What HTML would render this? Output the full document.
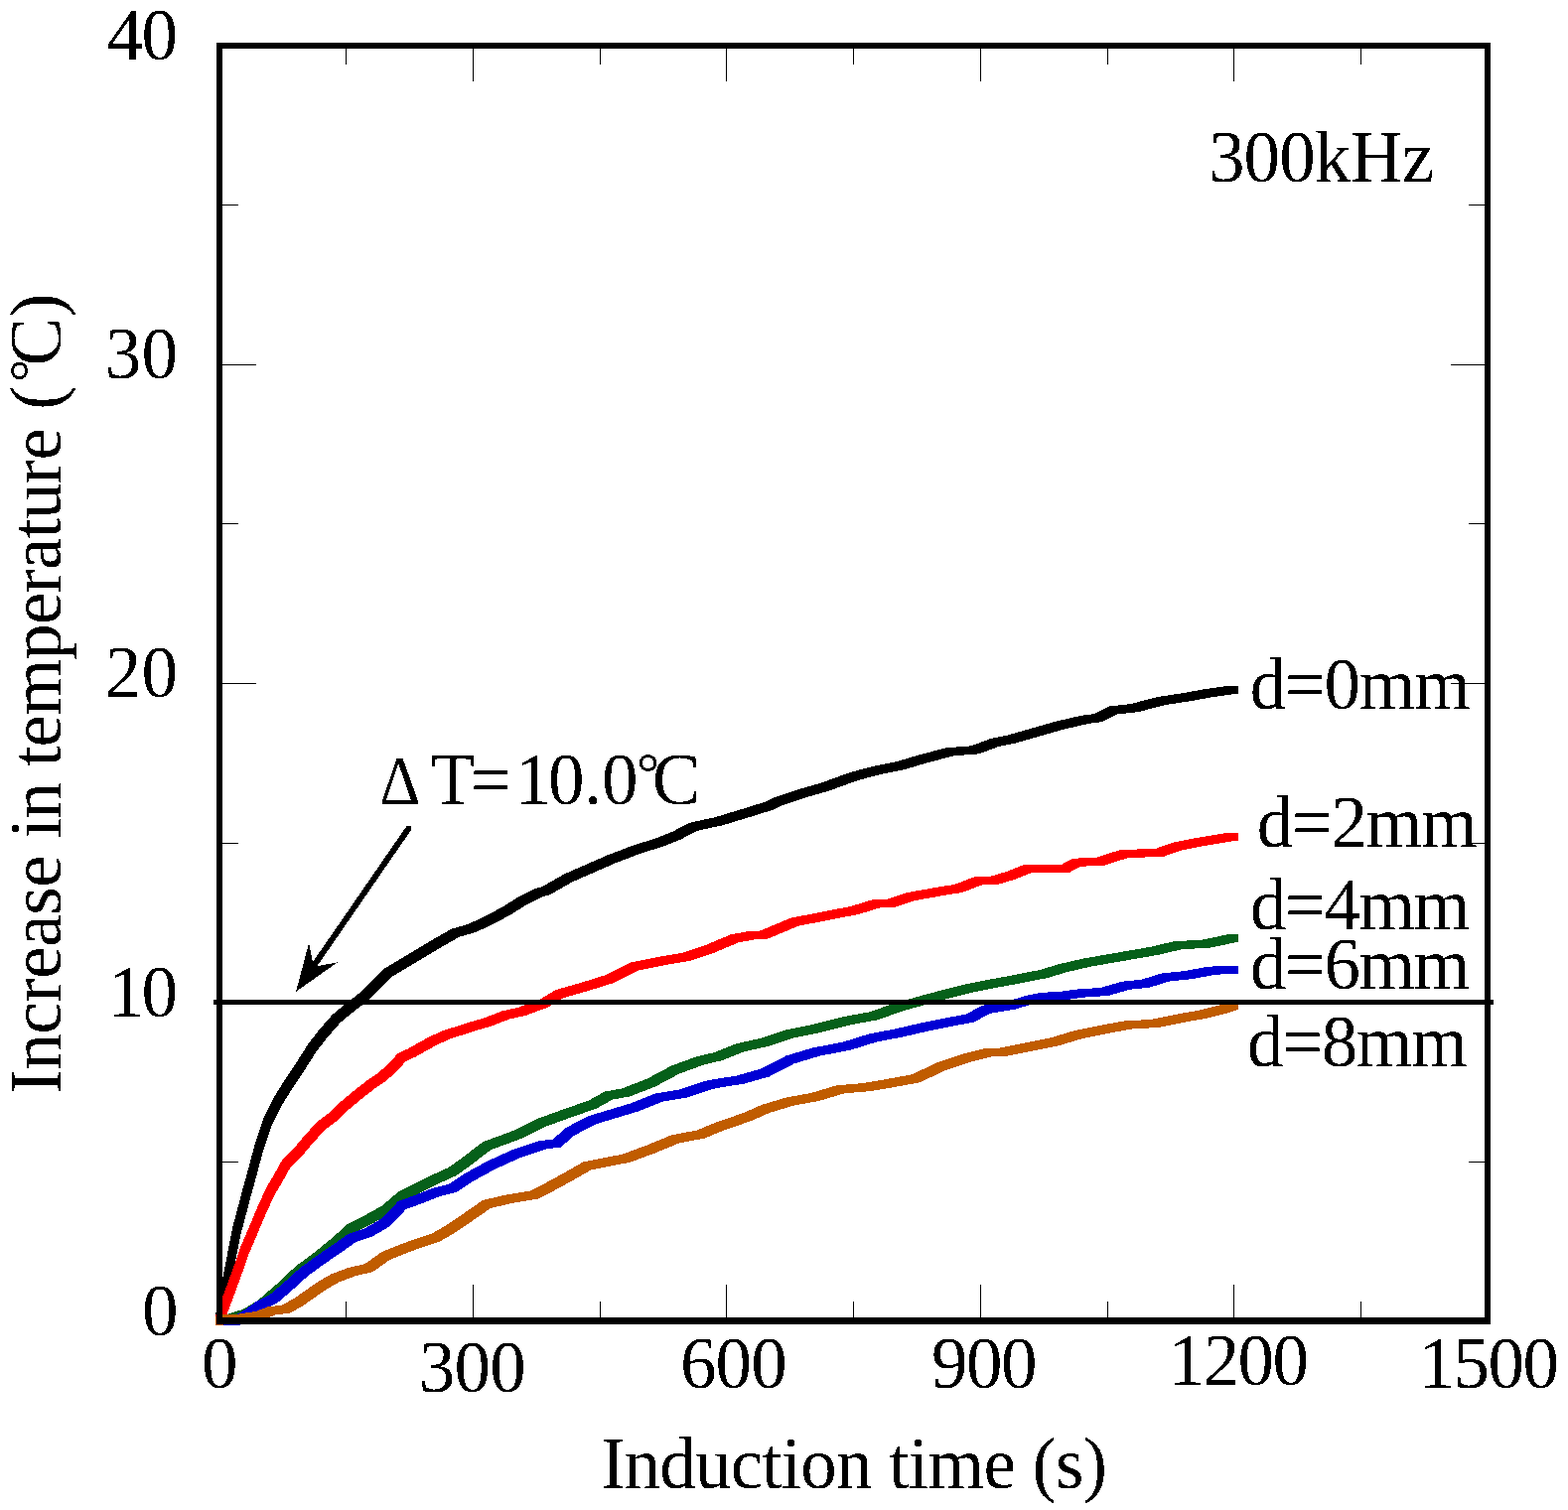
<!DOCTYPE html><html><head><meta charset="utf-8"><title>Increase in temperature vs induction time</title>
<style>html,body{margin:0;padding:0;background:#fff;overflow:hidden}svg{display:block}text{font-family:"Liberation Serif","Noto Serif CJK SC",serif;fill:#000}</style></head><body>
<svg width="1579" height="1521" viewBox="0 0 1579 1521">
<rect x="0" y="0" width="1579" height="1521" fill="#fff"/>
<path fill="#000000" shape-rendering="crispEdges" d="M216.60 1326.50 226.80 1274.90 234.80 1274.90 234.80 1282.90 224.60 1334.50 216.60 1334.50ZM226.80 1274.90 230.50 1255.10 238.50 1255.10 238.50 1263.10 234.80 1282.90 226.80 1282.90ZM230.50 1255.10 234.40 1235.40 242.40 1235.40 242.40 1243.40 238.50 1263.10 230.50 1263.10ZM234.40 1235.40 239.70 1215.70 247.70 1215.70 247.70 1223.70 242.40 1243.40 234.40 1243.40ZM239.70 1215.70 244.90 1196.00 252.90 1196.00 252.90 1204.00 247.70 1223.70 239.70 1223.70ZM244.90 1196.00 248.30 1183.90 256.30 1183.90 256.30 1191.90 252.90 1204.00 244.90 1204.00ZM248.30 1183.90 256.20 1154.30 264.20 1154.30 264.20 1162.30 256.30 1191.90 248.30 1191.90ZM256.20 1154.30 266.10 1124.70 274.10 1124.70 274.10 1132.70 264.20 1162.30 256.20 1162.30ZM266.10 1124.70 276.10 1104.80 284.10 1104.80 284.10 1112.80 274.10 1132.70 266.10 1132.70ZM276.10 1104.80 287.30 1087.00 295.30 1087.00 295.30 1095.00 284.10 1112.80 276.10 1112.80ZM287.30 1087.00 299.10 1069.30 307.10 1069.30 307.10 1077.30 295.30 1095.00 287.30 1095.00ZM299.10 1069.30 310.40 1051.50 318.40 1051.50 318.40 1059.50 307.10 1077.30 299.10 1077.30ZM310.40 1051.50 321.90 1036.70 329.90 1036.70 329.90 1044.70 318.40 1059.50 310.40 1059.50ZM321.90 1036.70 334.90 1021.90 342.90 1021.90 342.90 1029.90 329.90 1044.70 321.90 1044.70ZM334.90 1021.90 348.00 1011.20 356.00 1011.20 356.00 1019.20 342.90 1029.90 334.90 1029.90ZM348.00 1011.20 363.70 999.00 371.70 999.00 371.70 1007.00 356.00 1019.20 348.00 1019.20ZM363.70 999.00 387.00 975.70 395.00 975.70 395.00 983.70 371.70 1007.00 363.70 1007.00ZM387.00 975.70 409.00 962.50 417.00 962.50 417.00 970.50 395.00 983.70 387.00 983.70ZM409.00 962.50 432.00 948.60 440.00 948.60 440.00 956.60 417.00 970.50 409.00 970.50ZM432.00 948.60 454.30 935.80 462.30 935.80 462.30 943.80 440.00 956.60 432.00 956.60ZM454.30 935.80 471.10 931.00 479.10 931.00 479.10 939.00 462.30 943.80 454.30 943.80ZM471.10 931.00 488.00 923.10 496.00 923.10 496.00 931.10 479.10 939.00 471.10 939.00ZM488.00 923.10 504.80 914.20 512.80 914.20 512.80 922.20 496.00 931.10 488.00 931.10ZM504.80 914.20 521.60 903.80 529.60 903.80 529.60 911.80 512.80 922.20 504.80 922.20ZM521.60 903.80 538.50 895.40 546.50 895.40 546.50 903.40 529.60 911.80 521.60 911.80ZM538.50 895.40 546.20 893.10 554.20 893.10 554.20 901.10 546.50 903.40 538.50 903.40ZM546.20 893.10 568.10 880.50 576.10 880.50 576.10 888.50 554.20 901.10 546.20 901.10ZM568.10 880.50 590.00 870.90 598.00 870.90 598.00 878.90 576.10 888.50 568.10 888.50ZM590.00 870.90 610.20 862.00 618.20 862.00 618.20 870.00 598.00 878.90 590.00 878.90ZM610.20 862.00 635.40 852.40 643.40 852.40 643.40 860.40 618.20 870.00 610.20 870.00ZM635.40 852.40 660.60 844.30 668.60 844.30 668.60 852.30 643.40 860.40 635.40 860.40ZM660.60 844.30 677.50 837.60 685.50 837.60 685.50 845.60 668.60 852.30 660.60 852.30ZM677.50 837.60 694.30 828.80 702.30 828.80 702.30 836.80 685.50 845.60 677.50 845.60ZM694.30 828.80 719.60 823.30 727.60 823.30 727.60 831.30 702.30 836.80 694.30 836.80ZM719.60 823.30 744.80 815.70 752.80 815.70 752.80 823.70 727.60 831.30 719.60 831.30ZM744.80 815.70 770.10 807.80 778.10 807.80 778.10 815.80 752.80 823.70 744.80 823.70ZM770.10 807.80 779.00 803.50 787.00 803.50 787.00 811.50 778.10 815.80 770.10 815.80ZM779.00 803.50 801.20 796.00 809.20 796.00 809.20 804.00 787.00 811.50 779.00 811.50ZM801.20 796.00 826.50 788.70 834.50 788.70 834.50 796.70 809.20 804.00 801.20 804.00ZM826.50 788.70 856.80 777.80 864.80 777.80 864.80 785.80 834.50 796.70 826.50 796.70ZM856.80 777.80 877.00 772.40 885.00 772.40 885.00 780.40 864.80 785.80 856.80 785.80ZM877.00 772.40 902.20 767.30 910.20 767.30 910.20 775.30 885.00 780.40 877.00 780.40ZM902.20 767.30 927.50 759.80 935.50 759.80 935.50 767.80 910.20 775.30 902.20 775.30ZM927.50 759.80 952.70 753.40 960.70 753.40 960.70 761.40 935.50 767.80 927.50 767.80ZM952.70 753.40 978.00 751.30 986.00 751.30 986.00 759.30 960.70 761.40 952.70 761.40ZM978.00 751.30 998.20 743.80 1006.20 743.80 1006.20 751.80 986.00 759.30 978.00 759.30ZM998.20 743.80 1012.80 741.00 1020.80 741.00 1020.80 749.00 1006.20 751.80 998.20 751.80ZM1012.80 741.00 1038.10 733.80 1046.10 733.80 1046.10 741.80 1020.80 749.00 1012.80 749.00ZM1038.10 733.80 1063.30 726.70 1071.30 726.70 1071.30 734.70 1046.10 741.80 1038.10 741.80ZM1063.30 726.70 1088.60 720.80 1096.60 720.80 1096.60 728.80 1071.30 734.70 1063.30 734.70ZM1088.60 720.80 1102.00 719.10 1110.00 719.10 1110.00 727.10 1096.60 728.80 1088.60 728.80ZM1102.00 719.10 1117.20 711.50 1125.20 711.50 1125.20 719.50 1110.00 727.10 1102.00 727.10ZM1117.20 711.50 1139.10 709.00 1147.10 709.00 1147.10 717.00 1125.20 719.50 1117.20 719.50ZM1139.10 709.00 1164.30 702.30 1172.30 702.30 1172.30 710.30 1147.10 717.00 1139.10 717.00ZM1164.30 702.30 1189.60 698.40 1197.60 698.40 1197.60 706.40 1172.30 710.30 1164.30 710.30ZM1189.60 698.40 1214.80 693.90 1222.80 693.90 1222.80 701.90 1197.60 706.40 1189.60 706.40ZM1214.80 693.90 1238.70 690.60 1246.70 690.60 1246.70 698.60 1222.80 701.90 1214.80 701.90Z"/>
<path fill="#ff0000" shape-rendering="crispEdges" d="M216.60 1326.50 220.00 1317.50 228.00 1317.50 228.00 1325.50 224.60 1334.50 216.60 1334.50ZM220.00 1317.50 228.60 1294.60 236.60 1294.60 236.60 1302.60 228.00 1325.50 220.00 1325.50ZM228.60 1294.60 235.70 1274.90 243.70 1274.90 243.70 1282.90 236.60 1302.60 228.60 1302.60ZM235.70 1274.90 242.60 1255.10 250.60 1255.10 250.60 1263.10 243.70 1282.90 235.70 1282.90ZM242.60 1255.10 251.00 1235.40 259.00 1235.40 259.00 1243.40 250.60 1263.10 242.60 1263.10ZM251.00 1235.40 259.40 1215.70 267.40 1215.70 267.40 1223.70 259.00 1243.40 251.00 1243.40ZM259.40 1215.70 268.40 1196.00 276.40 1196.00 276.40 1204.00 267.40 1223.70 259.40 1223.70ZM268.40 1196.00 275.60 1183.90 283.60 1183.90 283.60 1191.90 276.40 1204.00 268.40 1204.00ZM275.60 1183.90 283.80 1169.10 291.80 1169.10 291.80 1177.10 283.60 1191.90 275.60 1191.90ZM283.80 1169.10 297.60 1154.60 305.60 1154.60 305.60 1162.60 291.80 1177.10 283.80 1177.10ZM297.60 1154.60 305.70 1145.10 313.70 1145.10 313.70 1153.10 305.60 1162.60 297.60 1162.60ZM305.70 1145.10 318.90 1130.30 326.90 1130.30 326.90 1138.30 313.70 1153.10 305.70 1153.10ZM318.90 1130.30 332.00 1120.40 340.00 1120.40 340.00 1128.40 326.90 1138.30 318.90 1138.30ZM332.00 1120.40 345.20 1107.90 353.20 1107.90 353.20 1115.90 340.00 1128.40 332.00 1128.40ZM345.20 1107.90 358.30 1097.10 366.30 1097.10 366.30 1105.10 353.20 1115.90 345.20 1115.90ZM358.30 1097.10 371.50 1086.90 379.50 1086.90 379.50 1094.90 366.30 1105.10 358.30 1105.10ZM371.50 1086.90 381.00 1080.50 389.00 1080.50 389.00 1088.50 379.50 1094.90 371.50 1094.90ZM381.00 1080.50 390.90 1071.90 398.90 1071.90 398.90 1079.90 389.00 1088.50 381.00 1088.50ZM390.90 1071.90 400.70 1061.10 408.70 1061.10 408.70 1069.10 398.90 1079.90 390.90 1079.90ZM400.70 1061.10 410.60 1056.50 418.60 1056.50 418.60 1064.50 408.70 1069.10 400.70 1069.10ZM410.60 1056.50 420.40 1050.90 428.40 1050.90 428.40 1058.90 418.60 1064.50 410.60 1064.50ZM420.40 1050.90 433.60 1043.70 441.60 1043.70 441.60 1051.70 428.40 1058.90 420.40 1058.90ZM433.60 1043.70 446.70 1037.90 454.70 1037.90 454.70 1045.90 441.60 1051.70 433.60 1051.70ZM446.70 1037.90 459.90 1033.80 467.90 1033.80 467.90 1041.80 454.70 1045.90 446.70 1045.90ZM459.90 1033.80 473.00 1029.50 481.00 1029.50 481.00 1037.50 467.90 1041.80 459.90 1041.80ZM473.00 1029.50 488.00 1025.30 496.00 1025.30 496.00 1033.30 481.00 1037.50 473.00 1037.50ZM488.00 1025.30 504.80 1018.60 512.80 1018.60 512.80 1026.60 496.00 1033.30 488.00 1033.30ZM504.80 1018.60 521.60 1014.90 529.60 1014.90 529.60 1022.90 512.80 1026.60 504.80 1026.60ZM521.60 1014.90 526.00 1013.10 534.00 1013.10 534.00 1021.10 529.60 1022.90 521.60 1022.90ZM526.00 1013.10 542.80 1007.20 550.80 1007.20 550.80 1015.20 534.00 1021.10 526.00 1021.10ZM542.80 1007.20 559.70 997.10 567.70 997.10 567.70 1005.10 550.80 1015.20 542.80 1015.20ZM559.70 997.10 584.90 989.90 592.90 989.90 592.90 997.90 567.70 1005.10 559.70 1005.10ZM584.90 989.90 610.20 982.00 618.20 982.00 618.20 990.00 592.90 997.90 584.90 997.90ZM610.20 982.00 635.40 969.40 643.40 969.40 643.40 977.40 618.20 990.00 610.20 990.00ZM635.40 969.40 660.60 964.30 668.60 964.30 668.60 972.30 643.40 977.40 635.40 977.40ZM660.60 964.30 685.90 960.10 693.90 960.10 693.90 968.10 668.60 972.30 660.60 972.30ZM685.90 960.10 711.10 951.70 719.10 951.70 719.10 959.70 693.90 968.10 685.90 968.10ZM711.10 951.70 736.40 941.10 744.40 941.10 744.40 949.10 719.10 959.70 711.10 959.70ZM736.40 941.10 753.20 938.20 761.20 938.20 761.20 946.20 744.40 949.10 736.40 949.10ZM753.20 938.20 765.00 937.70 773.00 937.70 773.00 945.70 761.20 946.20 753.20 946.20ZM765.00 937.70 782.00 930.60 790.00 930.60 790.00 938.60 773.00 945.70 765.00 945.70ZM782.00 930.60 796.20 924.70 804.20 924.70 804.20 932.70 790.00 938.60 782.00 938.60ZM796.20 924.70 826.50 918.80 834.50 918.80 834.50 926.80 804.20 932.70 796.20 932.70ZM826.50 918.80 856.80 912.90 864.80 912.90 864.80 920.90 834.50 926.80 826.50 926.80ZM856.80 912.90 880.40 905.70 888.40 905.70 888.40 913.70 864.80 920.90 856.80 920.90ZM880.40 905.70 901.80 905.70 901.80 913.70 880.40 913.70ZM893.80 905.70 914.00 899.00 922.00 899.00 922.00 907.00 901.80 913.70 893.80 913.70ZM914.00 899.00 944.30 893.60 952.30 893.60 952.30 901.60 922.00 907.00 914.00 907.00ZM944.30 893.60 961.10 891.00 969.10 891.00 969.10 899.00 952.30 901.60 944.30 901.60ZM961.10 891.00 983.00 882.60 991.00 882.60 991.00 890.60 969.10 899.00 961.10 899.00ZM983.00 882.60 1006.20 882.60 1006.20 890.60 983.00 890.60ZM998.20 882.60 1012.80 878.20 1020.80 878.20 1020.80 886.20 1006.20 890.60 998.20 890.60ZM1012.80 878.20 1031.20 870.90 1039.20 870.90 1039.20 878.90 1020.80 886.20 1012.80 886.20ZM1031.20 870.90 1076.90 870.90 1076.90 878.90 1031.20 878.90ZM1068.90 870.90 1080.20 864.70 1088.20 864.70 1088.20 872.70 1076.90 878.90 1068.90 878.90ZM1080.20 864.70 1103.70 863.90 1111.70 863.90 1111.70 871.90 1088.20 872.70 1080.20 872.70ZM1103.70 863.90 1127.30 856.30 1135.30 856.30 1135.30 864.30 1111.70 871.90 1103.70 871.90ZM1127.30 856.30 1164.30 854.60 1172.30 854.60 1172.30 862.60 1135.30 864.30 1127.30 864.30ZM1164.30 854.60 1181.10 848.70 1189.10 848.70 1189.10 856.70 1172.30 862.60 1164.30 862.60ZM1181.10 848.70 1206.40 843.70 1214.40 843.70 1214.40 851.70 1189.10 856.70 1181.10 856.70ZM1206.40 843.70 1231.60 839.50 1239.60 839.50 1239.60 847.50 1214.40 851.70 1206.40 851.70ZM1231.60 839.50 1238.70 838.50 1246.70 838.50 1246.70 846.50 1239.60 847.50 1231.60 847.50Z"/>
<path fill="#06601a" shape-rendering="crispEdges" d="M216.60 1326.50 228.00 1324.00 236.00 1324.00 236.00 1332.00 224.60 1334.50 216.60 1334.50ZM228.00 1324.00 244.40 1319.00 252.40 1319.00 252.40 1327.00 236.00 1332.00 228.00 1332.00ZM244.40 1319.00 260.20 1309.50 268.20 1309.50 268.20 1317.50 252.40 1327.00 244.40 1327.00ZM260.20 1309.50 279.80 1292.40 287.80 1292.40 287.80 1300.40 268.20 1317.50 260.20 1317.50ZM279.80 1292.40 297.60 1275.60 305.60 1275.60 305.60 1283.60 287.80 1300.40 279.80 1300.40ZM297.60 1275.60 314.70 1263.10 322.70 1263.10 322.70 1271.10 305.60 1283.60 297.60 1283.60ZM314.70 1263.10 326.00 1253.90 334.00 1253.90 334.00 1261.90 322.70 1271.10 314.70 1271.10ZM326.00 1253.90 333.80 1247.50 341.80 1247.50 341.80 1255.50 334.00 1261.90 326.00 1261.90ZM333.80 1247.50 350.60 1232.50 358.60 1232.50 358.60 1240.50 341.80 1255.50 333.80 1255.50ZM350.60 1232.50 367.50 1224.10 375.50 1224.10 375.50 1232.10 358.60 1240.50 350.60 1240.50ZM367.50 1224.10 384.30 1214.80 392.30 1214.80 392.30 1222.80 375.50 1232.10 367.50 1232.10ZM384.30 1214.80 401.10 1200.50 409.10 1200.50 409.10 1208.50 392.30 1222.80 384.30 1222.80ZM401.10 1200.50 418.00 1192.10 426.00 1192.10 426.00 1200.10 409.10 1208.50 401.10 1208.50ZM418.00 1192.10 434.80 1183.70 442.80 1183.70 442.80 1191.70 426.00 1200.10 418.00 1200.10ZM434.80 1183.70 451.60 1176.10 459.60 1176.10 459.60 1184.10 442.80 1191.70 434.80 1191.70ZM451.60 1176.10 467.00 1165.00 475.00 1165.00 475.00 1173.00 459.60 1184.10 451.60 1184.10ZM467.00 1165.00 486.20 1150.30 494.20 1150.30 494.20 1158.30 475.00 1173.00 467.00 1173.00ZM486.20 1150.30 516.50 1139.10 524.50 1139.10 524.50 1147.10 494.20 1158.30 486.20 1158.30ZM516.50 1139.10 541.70 1126.80 549.70 1126.80 549.70 1134.80 524.50 1147.10 516.50 1147.10ZM541.70 1126.80 567.00 1117.50 575.00 1117.50 575.00 1125.50 549.70 1134.80 541.70 1134.80ZM567.00 1117.50 592.20 1108.80 600.20 1108.80 600.20 1116.80 575.00 1125.50 567.00 1125.50ZM592.20 1108.80 609.10 1099.50 617.10 1099.50 617.10 1107.50 600.20 1116.80 592.20 1116.80ZM609.10 1099.50 625.90 1096.50 633.90 1096.50 633.90 1104.50 617.10 1107.50 609.10 1107.50ZM625.90 1096.50 651.10 1086.90 659.10 1086.90 659.10 1094.90 633.90 1104.50 625.90 1104.50ZM651.10 1086.90 676.40 1073.40 684.40 1073.40 684.40 1081.40 659.10 1094.90 651.10 1094.90ZM676.40 1073.40 701.60 1064.20 709.60 1064.20 709.60 1072.20 684.40 1081.40 676.40 1081.40ZM701.60 1064.20 719.00 1060.20 727.00 1060.20 727.00 1068.20 709.60 1072.20 701.60 1072.20ZM719.00 1060.20 741.20 1051.30 749.20 1051.30 749.20 1059.30 727.00 1068.20 719.00 1068.20ZM741.20 1051.30 766.50 1045.70 774.50 1045.70 774.50 1053.70 749.20 1059.30 741.20 1059.30ZM766.50 1045.70 791.70 1037.30 799.70 1037.30 799.70 1045.30 774.50 1053.70 766.50 1053.70ZM791.70 1037.30 817.00 1032.30 825.00 1032.30 825.00 1040.30 799.70 1045.30 791.70 1045.30ZM817.00 1032.30 850.60 1023.90 858.60 1023.90 858.60 1031.90 825.00 1040.30 817.00 1040.30ZM850.60 1023.90 875.90 1019.30 883.90 1019.30 883.90 1027.30 858.60 1031.90 850.60 1031.90ZM875.90 1019.30 901.10 1010.40 909.10 1010.40 909.10 1018.40 883.90 1027.30 875.90 1027.30ZM901.10 1010.40 926.40 1003.30 934.40 1003.30 934.40 1011.30 909.10 1018.40 901.10 1018.40ZM926.40 1003.30 951.60 996.60 959.60 996.60 959.60 1004.60 934.40 1011.30 926.40 1011.30ZM951.60 996.60 972.00 991.50 980.00 991.50 980.00 999.50 959.60 1004.60 951.60 1004.60ZM972.00 991.50 990.00 987.90 998.00 987.90 998.00 995.90 980.00 999.50 972.00 999.50ZM990.00 987.90 1015.20 983.20 1023.20 983.20 1023.20 991.20 998.00 995.90 990.00 995.90ZM1015.20 983.20 1047.20 977.00 1055.20 977.00 1055.20 985.00 1023.20 991.20 1015.20 991.20ZM1047.20 977.00 1065.70 971.40 1073.70 971.40 1073.70 979.40 1055.20 985.00 1047.20 985.00ZM1065.70 971.40 1091.00 965.50 1099.00 965.50 1099.00 973.50 1073.70 979.40 1065.70 979.40ZM1091.00 965.50 1124.60 959.70 1132.60 959.70 1132.60 967.70 1099.00 973.50 1091.00 973.50ZM1124.60 959.70 1158.30 953.80 1166.30 953.80 1166.30 961.80 1132.60 967.70 1124.60 967.70ZM1158.30 953.80 1183.60 947.90 1191.60 947.90 1191.60 955.90 1166.30 961.80 1158.30 961.80ZM1183.60 947.90 1208.80 947.00 1216.80 947.00 1216.80 955.00 1191.60 955.90 1183.60 955.90ZM1208.80 947.00 1238.70 940.80 1246.70 940.80 1246.70 948.80 1216.80 955.00 1208.80 955.00Z"/>
<path fill="#0000d4" shape-rendering="crispEdges" d="M216.60 1326.50 242.00 1326.50 242.00 1334.50 216.60 1334.50ZM234.00 1326.50 246.90 1319.00 254.90 1319.00 254.90 1327.00 242.00 1334.50 234.00 1334.50ZM246.90 1319.00 258.00 1311.00 266.00 1311.00 266.00 1319.00 254.90 1327.00 246.90 1327.00ZM258.00 1311.00 272.90 1303.30 280.90 1303.30 280.90 1311.30 266.00 1319.00 258.00 1319.00ZM272.90 1303.30 289.30 1288.90 297.30 1288.90 297.30 1296.90 280.90 1311.30 272.90 1311.30ZM289.30 1288.90 302.00 1277.30 310.00 1277.30 310.00 1285.30 297.30 1296.90 289.30 1296.90ZM302.00 1277.30 314.70 1268.00 322.70 1268.00 322.70 1276.00 310.00 1285.30 302.00 1285.30ZM314.70 1268.00 326.00 1260.10 334.00 1260.10 334.00 1268.10 322.70 1276.00 314.70 1276.00ZM326.00 1260.10 333.80 1254.90 341.80 1254.90 341.80 1262.90 334.00 1268.10 326.00 1268.10ZM333.80 1254.90 350.60 1243.00 358.60 1243.00 358.60 1251.00 341.80 1262.90 333.80 1262.90ZM350.60 1243.00 367.50 1237.20 375.50 1237.20 375.50 1245.20 358.60 1251.00 350.60 1251.00ZM367.50 1237.20 384.30 1227.40 392.30 1227.40 392.30 1235.40 375.50 1245.20 367.50 1245.20ZM384.30 1227.40 401.10 1209.80 409.10 1209.80 409.10 1217.80 392.30 1235.40 384.30 1235.40ZM401.10 1209.80 418.00 1203.90 426.00 1203.90 426.00 1211.90 409.10 1217.80 401.10 1217.80ZM418.00 1203.90 434.80 1197.10 442.80 1197.10 442.80 1205.10 426.00 1211.90 418.00 1211.90ZM434.80 1197.10 451.60 1192.90 459.60 1192.90 459.60 1200.90 442.80 1205.10 434.80 1205.10ZM451.60 1192.90 467.00 1182.50 475.00 1182.50 475.00 1190.50 459.60 1200.90 451.60 1200.90ZM467.00 1182.50 491.20 1169.40 499.20 1169.40 499.20 1177.40 475.00 1190.50 467.00 1190.50ZM491.20 1169.40 516.50 1157.90 524.50 1157.90 524.50 1165.90 499.20 1177.40 491.20 1177.40ZM516.50 1157.90 541.70 1149.50 549.70 1149.50 549.70 1157.50 524.50 1165.90 516.50 1165.90ZM541.70 1149.50 556.90 1147.50 564.90 1147.50 564.90 1155.50 549.70 1157.50 541.70 1157.50ZM556.90 1147.50 570.40 1135.70 578.40 1135.70 578.40 1143.70 564.90 1155.50 556.90 1155.50ZM570.40 1135.70 592.20 1124.30 600.20 1124.30 600.20 1132.30 578.40 1143.70 570.40 1143.70ZM592.20 1124.30 617.50 1116.70 625.50 1116.70 625.50 1124.70 600.20 1132.30 592.20 1132.30ZM617.50 1116.70 634.30 1111.60 642.30 1111.60 642.30 1119.60 625.50 1124.70 617.50 1124.70ZM634.30 1111.60 659.60 1101.50 667.60 1101.50 667.60 1109.50 642.30 1119.60 634.30 1119.60ZM659.60 1101.50 684.80 1097.30 692.80 1097.30 692.80 1105.30 667.60 1109.50 659.60 1109.50ZM684.80 1097.30 710.00 1088.90 718.00 1088.90 718.00 1096.90 692.80 1105.30 684.80 1105.30ZM710.00 1088.90 719.00 1087.20 727.00 1087.20 727.00 1095.20 718.00 1096.90 710.00 1096.90ZM719.00 1087.20 741.20 1083.60 749.20 1083.60 749.20 1091.60 727.00 1095.20 719.00 1095.20ZM741.20 1083.60 766.50 1076.50 774.50 1076.50 774.50 1084.50 749.20 1091.60 741.20 1091.60ZM766.50 1076.50 791.70 1063.40 799.70 1063.40 799.70 1071.40 774.50 1084.50 766.50 1084.50ZM791.70 1063.40 817.00 1055.80 825.00 1055.80 825.00 1063.80 799.70 1071.40 791.70 1071.40ZM817.00 1055.80 850.60 1049.10 858.60 1049.10 858.60 1057.10 825.00 1063.80 817.00 1063.80ZM850.60 1049.10 875.90 1041.20 883.90 1041.20 883.90 1049.20 858.60 1057.10 850.60 1057.10ZM875.90 1041.20 901.10 1036.50 909.10 1036.50 909.10 1044.50 883.90 1049.20 875.90 1049.20ZM901.10 1036.50 926.40 1030.60 934.40 1030.60 934.40 1038.60 909.10 1044.50 901.10 1044.50ZM926.40 1030.60 951.60 1025.50 959.60 1025.50 959.60 1033.50 934.40 1038.60 926.40 1038.60ZM951.60 1025.50 972.00 1021.80 980.00 1021.80 980.00 1029.80 959.60 1033.50 951.60 1033.50ZM972.00 1021.80 990.00 1012.70 998.00 1012.70 998.00 1020.70 980.00 1029.80 972.00 1029.80ZM990.00 1012.70 1015.20 1008.50 1023.20 1008.50 1023.20 1016.50 998.00 1020.70 990.00 1020.70ZM1015.20 1008.50 1032.10 1003.10 1040.10 1003.10 1040.10 1011.10 1023.20 1016.50 1015.20 1016.50ZM1032.10 1003.10 1048.90 999.70 1056.90 999.70 1056.90 1007.70 1040.10 1011.10 1032.10 1011.10ZM1048.90 999.70 1065.70 999.20 1073.70 999.20 1073.70 1007.20 1056.90 1007.70 1048.90 1007.70ZM1065.70 999.20 1082.60 996.70 1090.60 996.70 1090.60 1004.70 1073.70 1007.20 1065.70 1007.20ZM1082.60 996.70 1107.80 995.00 1115.80 995.00 1115.80 1003.00 1090.60 1004.70 1082.60 1004.70ZM1107.80 995.00 1129.70 988.80 1137.70 988.80 1137.70 996.80 1115.80 1003.00 1107.80 1003.00ZM1129.70 988.80 1149.90 986.60 1157.90 986.60 1157.90 994.60 1137.70 996.80 1129.70 996.80ZM1149.90 986.60 1170.10 980.40 1178.10 980.40 1178.10 988.40 1157.90 994.60 1149.90 994.60ZM1170.10 980.40 1192.00 978.20 1200.00 978.20 1200.00 986.20 1178.10 988.40 1170.10 988.40ZM1192.00 978.20 1217.20 973.60 1225.20 973.60 1225.20 981.60 1200.00 986.20 1192.00 986.20ZM1217.20 973.60 1238.70 973.10 1246.70 973.10 1246.70 981.10 1225.20 981.60 1217.20 981.60Z"/>
<path fill="#c05c00" shape-rendering="crispEdges" d="M216.60 1326.50 222.00 1324.00 230.00 1324.00 230.00 1332.00 224.60 1334.50 216.60 1334.50ZM222.00 1324.00 238.70 1323.90 246.70 1323.90 246.70 1331.90 230.00 1332.00 222.00 1332.00ZM238.70 1323.90 257.70 1320.90 265.70 1320.90 265.70 1328.90 246.70 1331.90 238.70 1331.90ZM257.70 1320.90 270.30 1316.10 278.30 1316.10 278.30 1324.10 265.70 1328.90 257.70 1328.90ZM270.30 1316.10 283.00 1315.00 291.00 1315.00 291.00 1323.00 278.30 1324.10 270.30 1324.10ZM283.00 1315.00 295.70 1308.20 303.70 1308.20 303.70 1316.20 291.00 1323.00 283.00 1323.00ZM295.70 1308.20 308.30 1299.40 316.30 1299.40 316.30 1307.40 303.70 1316.20 295.70 1316.20ZM308.30 1299.40 321.00 1290.50 329.00 1290.50 329.00 1298.50 316.30 1307.40 308.30 1307.40ZM321.00 1290.50 333.80 1283.30 341.80 1283.30 341.80 1291.30 329.00 1298.50 321.00 1298.50ZM333.80 1283.30 350.60 1277.10 358.60 1277.10 358.60 1285.10 341.80 1291.30 333.80 1291.30ZM350.60 1277.10 367.50 1273.20 375.50 1273.20 375.50 1281.20 358.60 1285.10 350.60 1285.10ZM367.50 1273.20 384.30 1261.10 392.30 1261.10 392.30 1269.10 375.50 1281.20 367.50 1281.20ZM384.30 1261.10 401.10 1254.40 409.10 1254.40 409.10 1262.40 392.30 1269.10 384.30 1269.10ZM401.10 1254.40 418.00 1248.00 426.00 1248.00 426.00 1256.00 409.10 1262.40 401.10 1262.40ZM418.00 1248.00 434.80 1242.60 442.80 1242.60 442.80 1250.60 426.00 1256.00 418.00 1256.00ZM434.80 1242.60 451.60 1232.80 459.60 1232.80 459.60 1240.80 442.80 1250.60 434.80 1250.60ZM451.60 1232.80 467.00 1222.20 475.00 1222.20 475.00 1230.20 459.60 1240.80 451.60 1240.80ZM467.00 1222.20 486.20 1208.90 494.20 1208.90 494.20 1216.90 475.00 1230.20 467.00 1230.20ZM486.20 1208.90 508.10 1203.90 516.10 1203.90 516.10 1211.90 494.20 1216.90 486.20 1216.90ZM508.10 1203.90 533.30 1199.70 541.30 1199.70 541.30 1207.70 516.10 1211.90 508.10 1211.90ZM533.30 1199.70 550.20 1191.20 558.20 1191.20 558.20 1199.20 541.30 1207.70 533.30 1207.70ZM550.20 1191.20 567.00 1182.00 575.00 1182.00 575.00 1190.00 558.20 1199.20 550.20 1199.20ZM567.00 1182.00 587.20 1170.50 595.20 1170.50 595.20 1178.50 575.00 1190.00 567.00 1190.00ZM587.20 1170.50 609.10 1166.00 617.10 1166.00 617.10 1174.00 595.20 1178.50 587.20 1178.50ZM609.10 1166.00 625.90 1163.00 633.90 1163.00 633.90 1171.00 617.10 1174.00 609.10 1174.00ZM625.90 1163.00 651.10 1153.70 659.10 1153.70 659.10 1161.70 633.90 1171.00 625.90 1171.00ZM651.10 1153.70 676.40 1143.30 684.40 1143.30 684.40 1151.30 659.10 1161.70 651.10 1161.70ZM676.40 1143.30 701.60 1138.60 709.60 1138.60 709.60 1146.60 684.40 1151.30 676.40 1151.30ZM701.60 1138.60 722.00 1130.10 730.00 1130.10 730.00 1138.10 709.60 1146.60 701.60 1146.60ZM722.00 1130.10 732.80 1126.50 740.80 1126.50 740.80 1134.50 730.00 1138.10 722.00 1138.10ZM732.80 1126.50 749.70 1120.60 757.70 1120.60 757.70 1128.60 740.80 1134.50 732.80 1134.50ZM749.70 1120.60 766.50 1113.10 774.50 1113.10 774.50 1121.10 757.70 1128.60 749.70 1128.60ZM766.50 1113.10 791.70 1105.50 799.70 1105.50 799.70 1113.50 774.50 1121.10 766.50 1121.10ZM791.70 1105.50 817.00 1100.90 825.00 1100.90 825.00 1108.90 799.70 1113.50 791.70 1113.50ZM817.00 1100.90 842.20 1093.40 850.20 1093.40 850.20 1101.40 825.00 1108.90 817.00 1108.90ZM842.20 1093.40 867.50 1091.20 875.50 1091.20 875.50 1099.20 850.20 1101.40 842.20 1101.40ZM867.50 1091.20 892.70 1087.00 900.70 1087.00 900.70 1095.00 875.50 1099.20 867.50 1099.20ZM892.70 1087.00 918.00 1082.40 926.00 1082.40 926.00 1090.40 900.70 1095.00 892.70 1095.00ZM918.00 1082.40 943.20 1070.60 951.20 1070.60 951.20 1078.60 926.00 1090.40 918.00 1090.40ZM943.20 1070.60 972.00 1060.90 980.00 1060.90 980.00 1068.90 951.20 1078.60 943.20 1078.60ZM972.00 1060.90 990.00 1056.40 998.00 1056.40 998.00 1064.40 980.00 1068.90 972.00 1068.90ZM990.00 1056.40 1006.80 1055.60 1014.80 1055.60 1014.80 1063.60 998.00 1064.40 990.00 1064.40ZM1006.80 1055.60 1032.10 1050.50 1040.10 1050.50 1040.10 1058.50 1014.80 1063.60 1006.80 1063.60ZM1032.10 1050.50 1057.30 1045.50 1065.30 1045.50 1065.30 1053.50 1040.10 1058.50 1032.10 1058.50ZM1057.30 1045.50 1082.60 1037.90 1090.60 1037.90 1090.60 1045.90 1065.30 1053.50 1057.30 1053.50ZM1082.60 1037.90 1107.80 1032.90 1115.80 1032.90 1115.80 1040.90 1090.60 1045.90 1082.60 1045.90ZM1107.80 1032.90 1133.10 1028.30 1141.10 1028.30 1141.10 1036.30 1115.80 1040.90 1107.80 1040.90ZM1133.10 1028.30 1158.30 1027.00 1166.30 1027.00 1166.30 1035.00 1141.10 1036.30 1133.10 1036.30ZM1158.30 1027.00 1183.60 1021.90 1191.60 1021.90 1191.60 1029.90 1166.30 1035.00 1158.30 1035.00ZM1183.60 1021.90 1208.80 1017.40 1216.80 1017.40 1216.80 1025.40 1191.60 1029.90 1183.60 1029.90ZM1208.80 1017.40 1225.60 1013.20 1233.60 1013.20 1233.60 1021.20 1216.80 1025.40 1208.80 1025.40ZM1225.60 1013.20 1238.70 1008.80 1246.70 1008.80 1246.70 1016.80 1233.60 1021.20 1225.60 1021.20Z"/>
<rect x="215" y="1007" width="1289" height="5" fill="#000"/>
<rect x="218" y="43" width="6" height="1291" fill="#000"/>
<rect x="218" y="43" width="1283" height="6" fill="#000"/>
<rect x="1495" y="43" width="6" height="1291" fill="#000"/>
<rect x="218" y="1327" width="1283" height="7" fill="#000"/>
<rect x="348" y="1311" width="1" height="16" fill="#000"/>
<rect x="348" y="49" width="1" height="16" fill="#000"/>
<rect x="476" y="1294" width="1" height="33" fill="#000"/>
<rect x="476" y="49" width="1" height="33" fill="#000"/>
<rect x="604" y="1311" width="1" height="16" fill="#000"/>
<rect x="604" y="49" width="1" height="16" fill="#000"/>
<rect x="731" y="1294" width="1" height="33" fill="#000"/>
<rect x="731" y="49" width="1" height="33" fill="#000"/>
<rect x="859" y="1311" width="1" height="16" fill="#000"/>
<rect x="859" y="49" width="1" height="16" fill="#000"/>
<rect x="987" y="1294" width="1" height="33" fill="#000"/>
<rect x="987" y="49" width="1" height="33" fill="#000"/>
<rect x="1115" y="1311" width="1" height="16" fill="#000"/>
<rect x="1115" y="49" width="1" height="16" fill="#000"/>
<rect x="1242" y="1294" width="1" height="33" fill="#000"/>
<rect x="1242" y="49" width="1" height="33" fill="#000"/>
<rect x="1370" y="1311" width="1" height="16" fill="#000"/>
<rect x="1370" y="49" width="1" height="16" fill="#000"/>
<rect x="224" y="1170" width="16" height="1" fill="#000"/>
<rect x="1479" y="1170" width="16" height="1" fill="#000"/>
<rect x="224" y="1009" width="34" height="1" fill="#000"/>
<rect x="1461" y="1009" width="34" height="1" fill="#000"/>
<rect x="224" y="849" width="16" height="1" fill="#000"/>
<rect x="1479" y="849" width="16" height="1" fill="#000"/>
<rect x="224" y="688" width="34" height="1" fill="#000"/>
<rect x="1461" y="688" width="34" height="1" fill="#000"/>
<rect x="224" y="527" width="16" height="1" fill="#000"/>
<rect x="1479" y="527" width="16" height="1" fill="#000"/>
<rect x="224" y="367" width="34" height="1" fill="#000"/>
<rect x="1461" y="367" width="34" height="1" fill="#000"/>
<rect x="224" y="206" width="16" height="1" fill="#000"/>
<rect x="1479" y="206" width="16" height="1" fill="#000"/>
<defs><filter id="bin" x="0" y="0" width="1579" height="1521" filterUnits="userSpaceOnUse"><feComponentTransfer><feFuncA type="discrete" tableValues="0 1"/></feComponentTransfer></filter></defs><g filter="url(#bin)">
<text x="107.80" y="60.40" font-size="73" letter-spacing="-1.800">40</text>
<text x="105.70" y="381.40" font-size="73" letter-spacing="0.300">30</text>
<text x="105.80" y="702.30" font-size="73" letter-spacing="0.200">20</text>
<text x="109.00" y="1024.30" font-size="73" letter-spacing="-3.000">10</text>
<text x="142.90" y="1345.40" font-size="73">0</text>
<text x="202.90" y="1398.35" font-size="73">0</text>
<text x="421.80" y="1402.40" font-size="73" letter-spacing="-0.800">300</text>
<text x="684.90" y="1398.40" font-size="73" letter-spacing="-0.850">600</text>
<text x="937.90" y="1398.40" font-size="73" letter-spacing="-1.450">900</text>
<text x="1176.80" y="1395.30" font-size="73" letter-spacing="-1.600">1200</text>
<text x="1428.70" y="1398.40" font-size="73" letter-spacing="-1.600">1500</text>
<text x="604.90" y="1499.10" font-size="73" letter-spacing="-0.759">Induction time (s)</text>
<text x="1216.90" y="183.15" font-size="73" letter-spacing="-0.780">300kHz</text>
<text x="1258.80" y="714.35" font-size="73" letter-spacing="-1.425">d=0mm</text>
<text x="1265.80" y="853.25" font-size="73" letter-spacing="-1.450">d=2mm</text>
<text x="1258.90" y="936.05" font-size="73" letter-spacing="-1.575">d=4mm</text>
<text x="1258.90" y="996.00" font-size="73" letter-spacing="-1.575">d=6mm</text>
<text x="1255.90" y="1074.25" font-size="73" letter-spacing="-1.450">d=8mm</text>
<text transform="rotate(-90)" y="61.1" font-size="73"><tspan x="-1101.7" letter-spacing="-0.414">Increase</tspan><tspan x="-844.2" letter-spacing="-0.8">in</tspan><tspan x="-771.9" letter-spacing="-0.79">temperature</tspan><tspan x="-412.7">(</tspan><tspan x="-384.9" y="49" font-size="58">°</tspan><tspan x="-368.6" y="61.1">C</tspan><tspan x="-319.7">)</tspan></text>
<text transform="translate(382.26 809.8) scale(0.88 0.955)" font-size="73">Δ</text>
<text y="809.9" font-size="73"><tspan x="433.7">T</tspan><tspan x="473.8">=</tspan><tspan x="518.9">1</tspan><tspan x="552">0</tspan><tspan x="588">.</tspan><tspan x="606">0</tspan><tspan x="640.9" y="797.8" font-size="58">°</tspan><tspan x="656.8" y="809.9">C</tspan></text>
</g>
<path fill="#000" shape-rendering="crispEdges" d="M315.05 968.85 409.55 832.05 413.85 832.05 413.85 836.35 319.35 973.15 315.05 973.15Z"/>
<polygon shape-rendering="crispEdges" points="298.1,998.8 311,950 315.1,970 320.8,972.9 339.8,969.4" fill="#000"/>
</svg></body></html>
